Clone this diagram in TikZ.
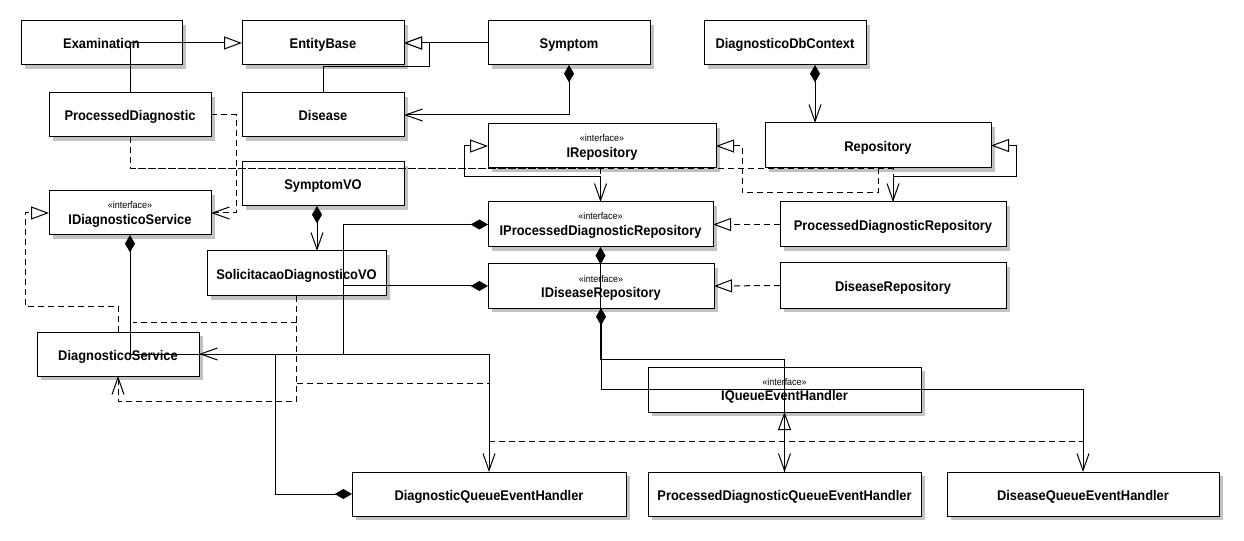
\documentclass[tikz,border=0pt]{standalone}
\usepackage{fontspec}
\setmainfont{Liberation Sans}[FakeStretch=0.92]
\usetikzlibrary{arrows.meta,calc,shadows}

% class box: name, x1, y1, x2, y2 (pixel grid), label
\newcommand\umlbox[6]{%
  \node[box, minimum width={(#4-#2)*0.75pt}, minimum height={(#5-#3)*0.75pt}]
    (#1) at ({(#2+#4)/2},{(#3+#5)/2}) {#6};}
% interface box: same, with a stereotype line above the name
\newcommand\umliface[6]{%
  \umlbox{#1}{#2}{#3}{#4}{#5}{}%
  \node[stereo] (#1-s) at ([yshift=-13.5pt]#1.north) {«interface»};
  \node[iname] (#1-n) at ([yshift=-25pt]#1.north) {#6};}

\begin{document}
\begin{tikzpicture}[x=0.75pt, y=-0.75pt, line width=0.75pt,
  box/.style={draw, fill=white, inner sep=0pt, outer sep=0pt,
    general shadow={fill=black!24, shadow xshift=3pt, shadow yshift=-3pt},
    font=\fontsize{10.5}{12}\selectfont\bfseries, text height=9pt, text depth=0pt},
  stereo/.style={font=\fontsize{7.3}{8}\selectfont, anchor=base, inner sep=0pt},
  iname/.style={font=\fontsize{10.5}{12}\selectfont\bfseries, anchor=base, inner sep=0pt},
  dashline/.style={dash pattern=on 4.5pt off 3pt},
  gen/.style={-{Triangle[length=13.5pt,width=9.75pt,fill=white]}},
  real/.style={gen, dashline},
  assoc/.style={-{Straight Barb[length=12.75pt,width=9pt]}},
  dep/.style={assoc, dashline},
  comp/.style={{Diamond[length=13pt,width=7.5pt]}-{Straight Barb[length=12.75pt,width=9pt]}},
  own/.style={{Diamond[length=13pt,width=7.5pt]}-},
]
\fill[white] (0,0) rectangle (1244,541);
\useasboundingbox (0,0) rectangle (1244,541);

% ---- classes ----
\umlbox{Exam}{21}{21}{182}{65}{Examination}
\umlbox{EB}{242}{21}{404}{65}{EntityBase}
\umlbox{Sym}{488}{21}{650}{65}{Symptom}
\umlbox{DbC}{704}{21}{866}{65}{DiagnosticoDbContext}
\umlbox{PD}{49}{93}{211}{137}{ProcessedDiagnostic}
\umlbox{Dis}{242}{93}{404}{137}{Disease}
\umliface{IRep}{488}{124}{716}{168}{IRepository}
\umlbox{Repo}{765}{123}{991}{168}{Repository}
\umlbox{SVO}{242}{162}{404}{206}{SymptomVO}
\umliface{IDS}{49}{191}{211}{235}{IDiagnosticoService}
\umliface{IPDR}{488}{202}{713}{247}{IProcessedDiagnosticRepository}
\umlbox{PDRep}{780}{202}{1006}{247}{ProcessedDiagnosticRepository}
\umlbox{SDVO}{207}{251}{386}{296}{SolicitacaoDiagnosticoVO}
\umliface{IDR}{488}{264}{714}{308}{IDiseaseRepository}
\umlbox{DisRep}{780}{263}{1006}{308}{DiseaseRepository}
\umlbox{DS}{37}{332}{199}{376}{DiagnosticoService}
\umliface{IQEH}{648}{367}{921}{412}{IQueueEventHandler}
\umlbox{DQEH}{352}{472}{626}{516}{DiagnosticQueueEventHandler}
\umlbox{PDQEH}{648}{472}{921}{516}{ProcessedDiagnosticQueueEventHandler}
\umlbox{DisQEH}{947}{472}{1219}{516}{DiseaseQueueEventHandler}

% ---- junction points ----
\coordinate (pdj) at ($(PD.south)+(0,32)$);
\coordinate (dbc) at ($(DbC.south)+(30,0)$);
\coordinate (svo) at ($(SVO.south)+(-6,0)$);
\coordinate (j1) at ($(IPDR.west)+(-145,0)$);
\coordinate (sd1) at ($(SDVO.south)+(0,26)$);
\coordinate (sd2) at ($(SDVO.south)+(0,87)$);

% ---- generalizations ----
\draw[gen] (PD.north) |- (EB.west);
\draw[gen] (Sym.west) -- (EB.east);
\draw[gen] (Dis.north) -- ++(0,-26) -| ($(EB.east)+(25,0)$) -- (EB.east);
\draw[gen] (IPDR.north) -- ++(0,-25) -| ($(IRep.west)+(-24,0)$) -- (IRep.west);
\draw[gen] (PDRep.north) -- ++(0,-25) -| ($(Repo.east)+(25,0)$) -- (Repo.east);

% ---- realizations ----
\draw[real] (Repo.south) -- ++(0,25) -| ($(IRep.east)+(26,0)$) -- (IRep.east);
\draw[real] (DS.north) -- ++(0,-26) -| ($(IDS.west)+(-24,0)$) -- (IDS.west);
\draw[real] (PDRep.west) -- (IPDR.east);
\draw[real] (DisRep.west) -- (IDR.east);
\draw[real] (PDQEH.north) -- (IQEH.south);
\draw[dashline] ($(DQEH.north)+(0,-31)$) -- ($(DisQEH.north)+(0,-31)$);

% ---- dependencies ----
\draw[dep] (PD.south) -- (pdj) -| (PDRep.north);
\draw[dep] (pdj) -| (IPDR.north);
\draw[dep] (PD.east) -- ++(25,0) |- (IDS.east);
\draw[dep] (SDVO.south) |- ($(DS.south)+(0,25)$) -- (DS.south);
\draw[dashline] (sd1) -- ($(IDS.south |- sd1)+(3,0)$);
\draw[dashline] (sd2) -- (sd2 -| DQEH.north);

% ---- compositions ----
\draw[comp] (Sym.south) |- (Dis.east);
\draw[comp] (dbc) -- (dbc |- Repo.north);
\draw[comp] (svo) -- (svo |- SDVO.north);
\draw[comp] (IDS.south) -- (IDS.south |- DS.east) -| (DQEH.north);
\draw[comp] (IPDR.west) -- (j1) |- (DS.east);
\draw[own] (IDR.west) -- (IDR.west -| j1);
\draw[own] (DQEH.west) -| ($(DS.east)+(76,0)$);
\draw[comp] (IPDR.south) |- ($(PDQEH.north)+(0,-113)$) -- (PDQEH.north);
\draw[comp] (IDR.south) |- ($(DisQEH.north)+(0,-83)$) -- (DisQEH.north);
\end{tikzpicture}
\end{document}
